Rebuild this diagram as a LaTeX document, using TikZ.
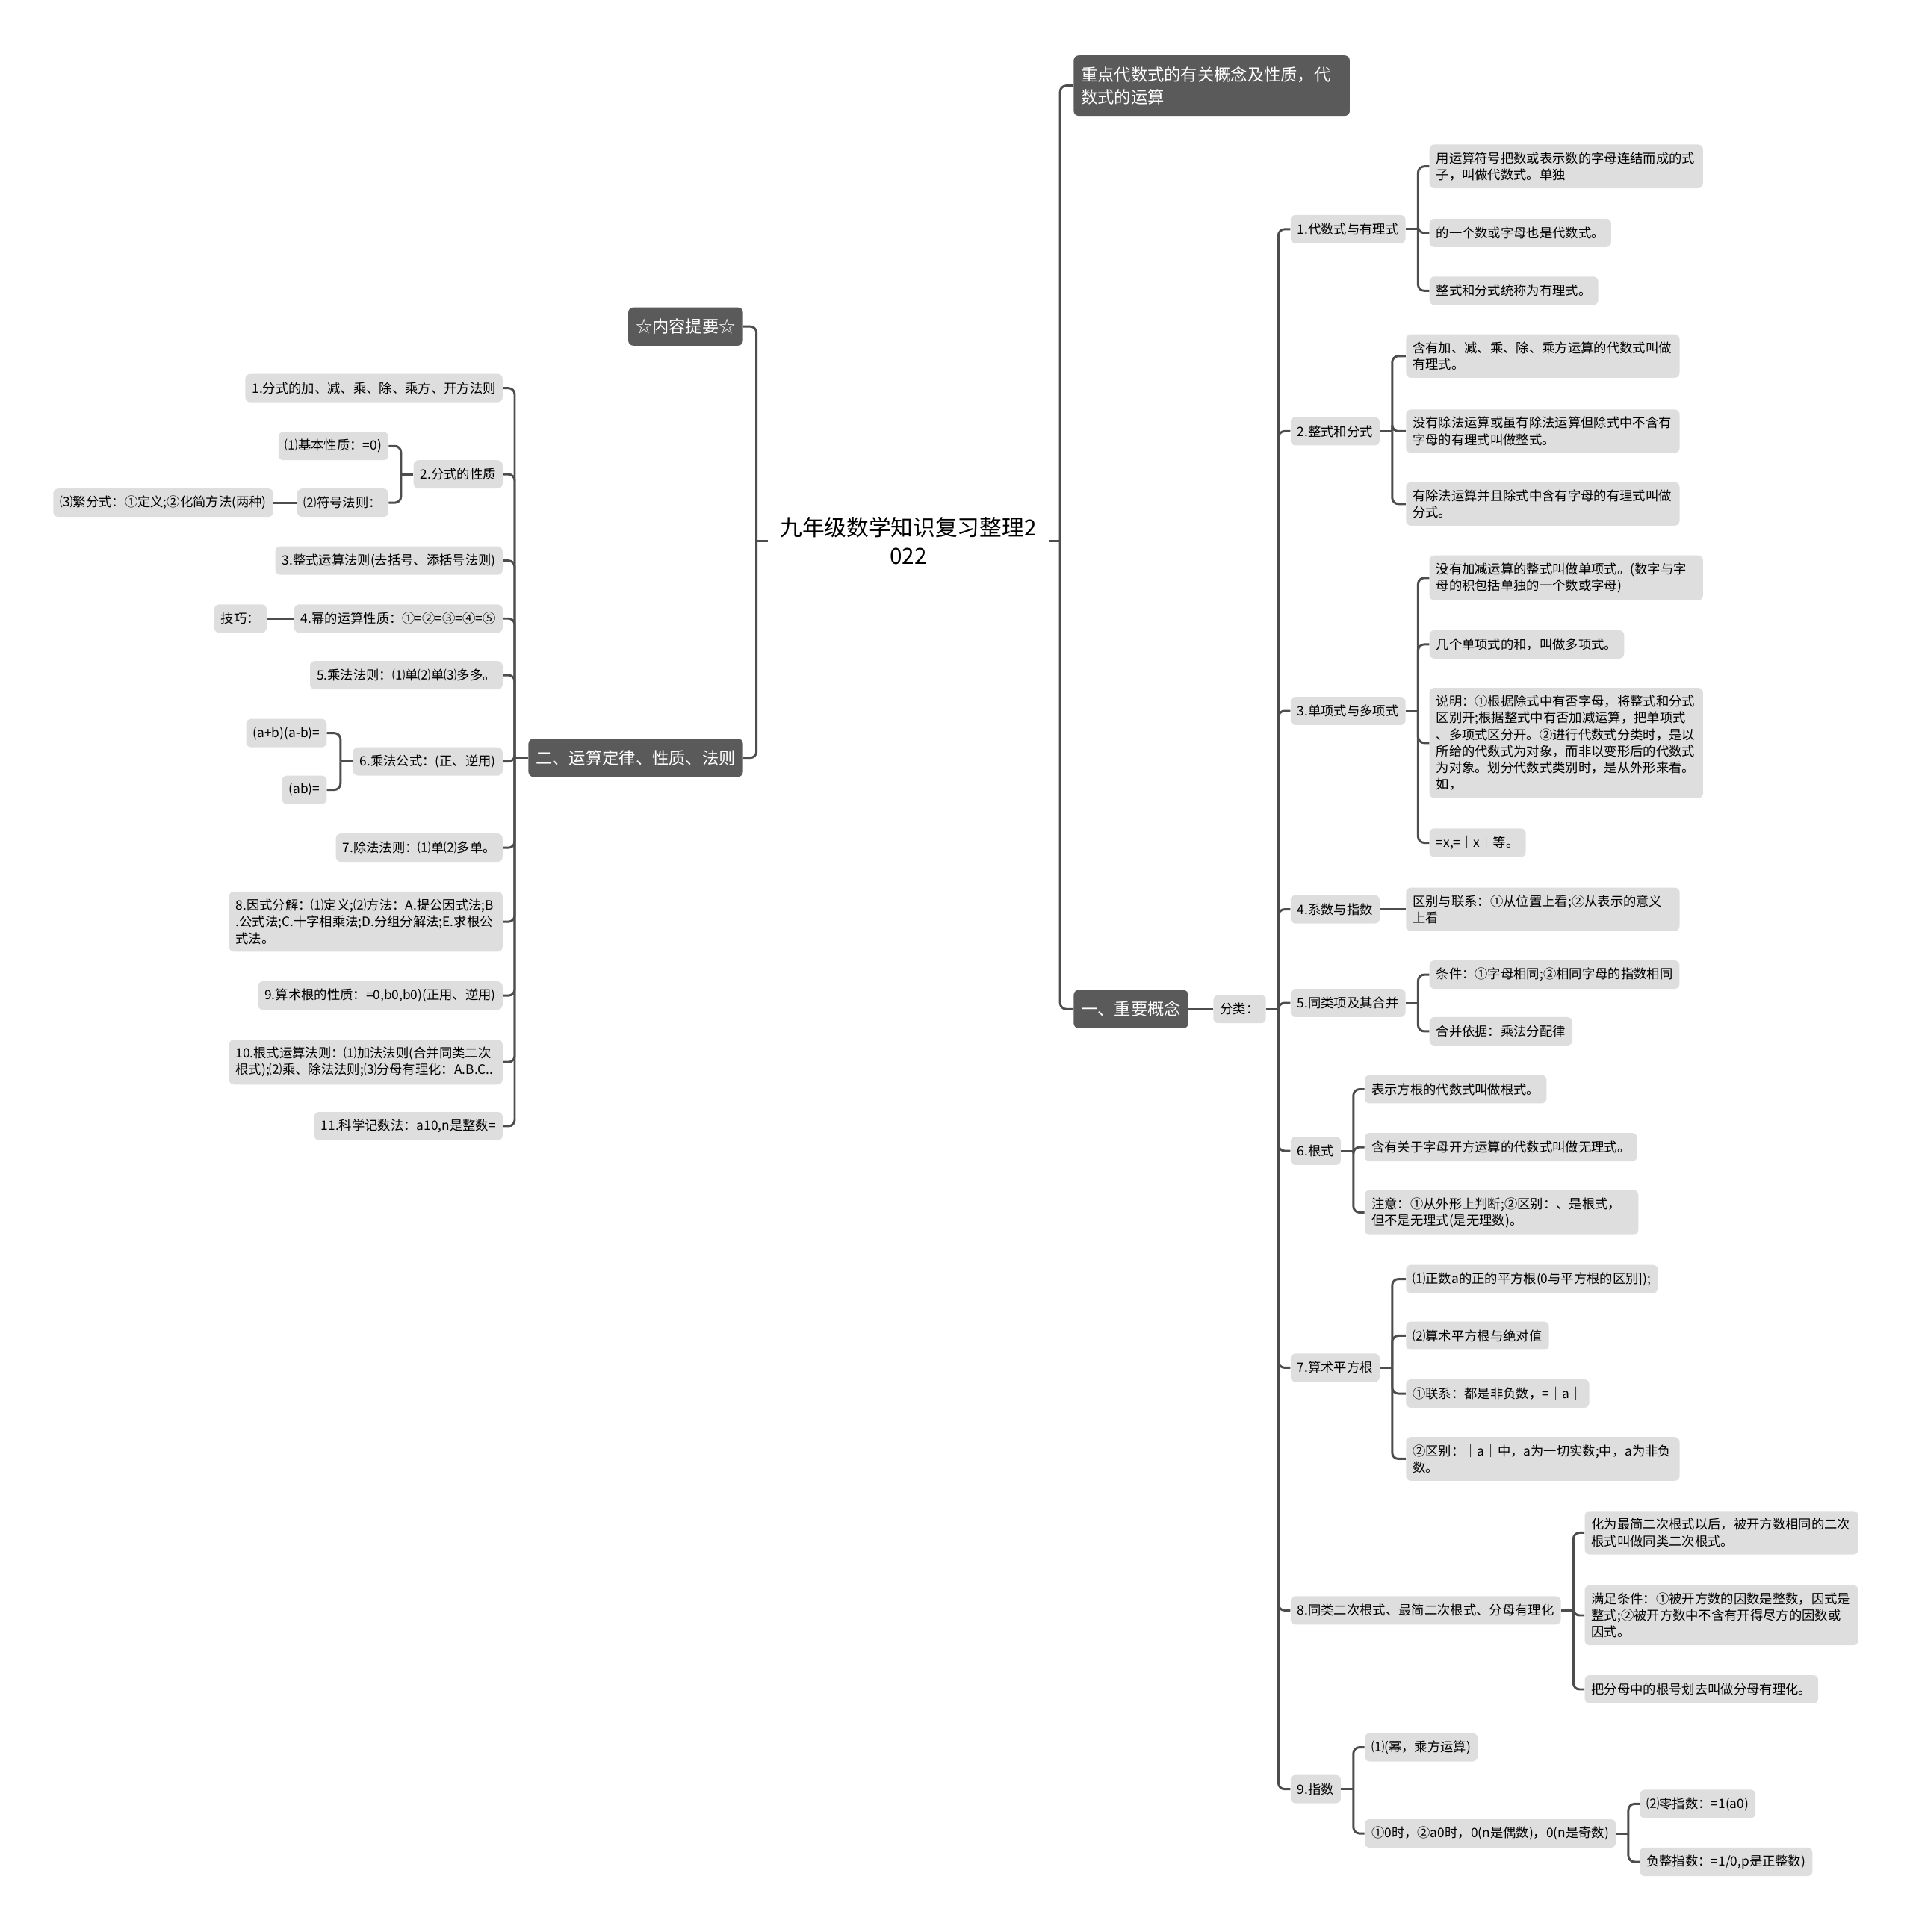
\documentclass[tikz,border=0pt]{standalone}
\usepackage{fontspec}
\setmainfont{Noto Sans CJK SC}
\usepackage{xcolor}
\usetikzlibrary{positioning}
\definecolor{darkbox}{HTML}{5A5A5A}
\definecolor{lightbox}{HTML}{DEDEDE}
\definecolor{linegray}{HTML}{4D4D4D}

\begin{document}
\begin{tikzpicture}[
  x=1pt,y=-1pt,
  node distance=19pt,
  topic/.style={rectangle,rounded corners=4pt,fill=darkbox,text=white,font=\fontsize{13.5}{18}\selectfont,inner xsep=6pt,inner ysep=6pt,minimum height=31pt,align=left},
  leaf/.style={rectangle,rounded corners=4pt,fill=lightbox,text=black,font=\fontsize{10.5}{13.5}\selectfont,inner xsep=5.5pt,inner ysep=6pt,minimum height=23pt,align=left},
  para/.style={leaf,text width=211pt},
  conn/.style={draw=linegray,line width=1.8pt,rounded corners=5pt}
]
\useasboundingbox (0,0) rectangle (1552,1568);

\node[align=center,font=\fontsize{18}{23}\selectfont,inner xsep=10pt] (t0) at (737,439) {九年级数学知识复习整理2\\022};

\node[topic,anchor=west,text width=212pt,minimum height=49pt] (zd) at (871,69.5) {重点代数式的有关概念及性质，代\\数式的运算};
\node[topic,anchor=west] (zy) at (871,819) {一、重要概念};
\node[topic,anchor=east] (nr) at (603,265) {☆内容提要☆};
\node[topic,anchor=east] (ys) at (603,615) {二、运算定律、性质、法则};

% left side
\node[leaf,anchor=east] (a1) at (408,315) {1.分式的加、减、乘、除、乘方、开方法则};
\node[leaf,anchor=east] (a2) at (408,385) {2.分式的性质};
\node[leaf,left=20pt of a2,yshift=23pt] (a2a) {⑴基本性质：=0)};
\node[leaf,left=20pt of a2,yshift=-23pt] (a2b) {⑵符号法则：};
\node[leaf,left=19pt of a2b] (a2c) {⑶繁分式：①定义;②化简方法(两种)};
\node[leaf,anchor=east] (a3) at (408,455) {3.整式运算法则(去括号、添括号法则)};
\node[leaf,anchor=east] (a4) at (408,502) {4.幂的运算性质：①=②=③=④=⑤};
\node[leaf,left=22pt of a4] (a4a) {技巧：};
\node[leaf,anchor=east] (a5) at (408,548) {5.乘法法则：⑴单⑵单⑶多多。};
\node[leaf,anchor=east] (a6) at (408,618) {6.乘法公式：(正、逆用)};
\node[leaf,left=21pt of a6,yshift=23pt] (a6a) {(a+b)(a-b)=};
\node[leaf,left=21pt of a6,yshift=-23pt] (a6b) {(ab)=};
\node[leaf,anchor=east] (a7) at (408,688) {7.除法法则：⑴单⑵多单。};
\node[para,anchor=east] (a8) at (408,748) {8.因式分解：⑴定义;⑵方法：A.提公因式法;B\\.公式法;C.十字相乘法;D.分组分解法;E.求根公\\式法。};
\node[leaf,anchor=east] (a9) at (408,808) {9.算术根的性质：=0,b0,b0)(正用、逆用)};
\node[para,anchor=east] (a10) at (408,862) {10.根式运算法则：⑴加法法则(合并同类二次\\根式);⑵乘、除法法则;⑶分母有理化：A.B.C..};
\node[leaf,anchor=east] (a11) at (408,914) {11.科学记数法：a10,n是整数=};

% right side
\node[leaf,right=20pt of zy] (fl) {分类：};
\node[leaf,anchor=west] (b1) at (1047,186) {1.代数式与有理式};
\node[para,right=of b1,yshift=51pt] (b1a) {用运算符号把数或表示数的字母连结而成的式\\子，叫做代数式。单独};
\node[leaf,right=of b1,yshift=-3pt] (b1b) {的一个数或字母也是代数式。};
\node[leaf,right=of b1,yshift=-50pt] (b1c) {整式和分式统称为有理式。};
\node[leaf,anchor=west] (b2) at (1047,350) {2.整式和分式};
\node[para,right=21pt of b2,yshift=61pt] (b2a) {含有加、减、乘、除、乘方运算的代数式叫做\\有理式。};
\node[para,right=21pt of b2] (b2b) {没有除法运算或虽有除法运算但除式中不含有\\字母的有理式叫做整式。};
\node[para,right=21pt of b2,yshift=-59pt] (b2c) {有除法运算并且除式中含有字母的有理式叫做\\分式。};
\node[leaf,anchor=west] (b3) at (1047,577) {3.单项式与多项式};
\node[para,right=of b3,yshift=108pt] (b3a) {没有加减运算的整式叫做单项式。(数字与字\\母的积包括单独的一个数或字母)};
\node[leaf,right=of b3,yshift=54pt] (b3b) {几个单项式的和，叫做多项式。};
\node[para,right=of b3,yshift=-26pt] (b3c) {说明：①根据除式中有否字母，将整式和分式\\区别开;根据整式中有否加减运算，把单项式\\、多项式区分开。②进行代数式分类时，是以\\所给的代数式为对象，而非以变形后的代数式\\为对象。划分代数式类别时，是从外形来看。\\如，};
\node[leaf,right=of b3,yshift=-107pt] (b3d) {=x,=｜x｜等。};
\node[leaf,anchor=west] (b4) at (1047,738) {4.系数与指数};
\node[para,right=21pt of b4] (b4a) {区别与联系：①从位置上看;②从表示的意义\\上看};
\node[leaf,anchor=west] (b5) at (1047,814) {5.同类项及其合并};
\node[leaf,right=of b5,yshift=23pt] (b5a) {条件：①字母相同;②相同字母的指数相同};
\node[leaf,right=of b5,yshift=-23pt] (b5b) {合并依据：乘法分配律};
\node[leaf,anchor=west] (b6) at (1047,934) {6.根式};
\node[leaf,right=of b6,yshift=50pt] (b6a) {表示方根的代数式叫做根式。};
\node[leaf,right=of b6,yshift=3pt] (b6b) {含有关于字母开方运算的代数式叫做无理式。};
\node[para,right=of b6,yshift=-50pt] (b6c) {注意：①从外形上判断;②区别：、是根式，\\但不是无理式(是无理数)。};
\node[leaf,anchor=west] (b7) at (1047,1110) {7.算术平方根};
\node[leaf,right=21pt of b7,yshift=72pt] (b7a) {⑴正数a的正的平方根(0与平方根的区别]);};
\node[leaf,right=21pt of b7,yshift=26pt] (b7b) {⑵算术平方根与绝对值};
\node[leaf,right=21pt of b7,yshift=-21pt] (b7c) {①联系：都是非负数，=｜a｜};
\node[para,right=21pt of b7,yshift=-74pt] (b7d) {②区别：｜a｜中，a为一切实数;中，a为非负\\数。};
\node[leaf,anchor=west] (b8) at (1047,1307) {8.同类二次根式、最简二次根式、分母有理化};
\node[para,right=of b8,yshift=63pt] (b8a) {化为最简二次根式以后，被开方数相同的二次\\根式叫做同类二次根式。};
\node[para,right=of b8,yshift=-4pt] (b8b) {满足条件：①被开方数的因数是整数，因式是\\整式;②被开方数中不含有开得尽方的因数或\\因式。};
\node[leaf,right=of b8,yshift=-64pt] (b8c) {把分母中的根号划去叫做分母有理化。};
\node[leaf,anchor=west] (b9) at (1047,1452) {9.指数};
\node[leaf,right=of b9,yshift=34pt] (b9a) {⑴(幂，乘方运算)};
\node[leaf,right=of b9,yshift=-36pt] (b9b) {①0时，②a0时，0(n是偶数)，0(n是奇数)};
\node[leaf,right=of b9b,yshift=24pt] (b9c) {⑵零指数：=1(a0)};
\node[leaf,right=of b9b,yshift=-23pt] (b9d) {负整指数：=1/0,p是正整数)};

% connectors
\draw[conn] (t0.west) -- ++(-9,0);
\foreach \c in {nr,ys} \draw[conn] (t0.west) ++(-9,0) |- (\c.east);
\draw[conn] (t0.east) -- ++(9,0);
\foreach \c in {zd,zy} \draw[conn] (t0.east) ++(9,0) |- (\c.west);

\draw[conn] (ys.west) -- ++(-11,0);
\foreach \c in {a1,a2,a3,a4,a5,a6,a7,a8,a9,a10,a11} \draw[conn] (ys.west) ++(-11,0) |- (\c.east);
\draw[conn] (a2.west) -- ++(-10,0);
\foreach \c in {a2a,a2b} \draw[conn] (a2.west) ++(-10,0) |- (\c.east);
\draw[conn] (a2b.west) -- (a2c.east);
\draw[conn] (a4.west) -- (a4a.east);
\draw[conn] (a6.west) -- ++(-10,0);
\foreach \c in {a6a,a6b} \draw[conn] (a6.west) ++(-10,0) |- (\c.east);

\draw[conn] (zy.east) -- (fl.west);
\draw[conn] (fl.east) -- ++(10,0);
\foreach \c in {b1,b2,b3,b4,b5,b6,b7,b8,b9} \draw[conn] (fl.east) ++(10,0) |- (\c.west);
\foreach \p/\kids in {b1/{b1a,b1b,b1c},b2/{b2a,b2b,b2c},b3/{b3a,b3b,b3c,b3d},b5/{b5a,b5b},b6/{b6a,b6b,b6c},b7/{b7a,b7b,b7c,b7d},b8/{b8a,b8b,b8c},b9/{b9a,b9b},b9b/{b9c,b9d}}{
  \draw[conn] (\p.east) -- ++(10,0);
  \foreach \c in \kids \draw[conn] (\p.east) ++(10,0) |- (\c.west);
}
\draw[conn] (b4.east) -- (b4a.west);
\end{tikzpicture}
\end{document}
